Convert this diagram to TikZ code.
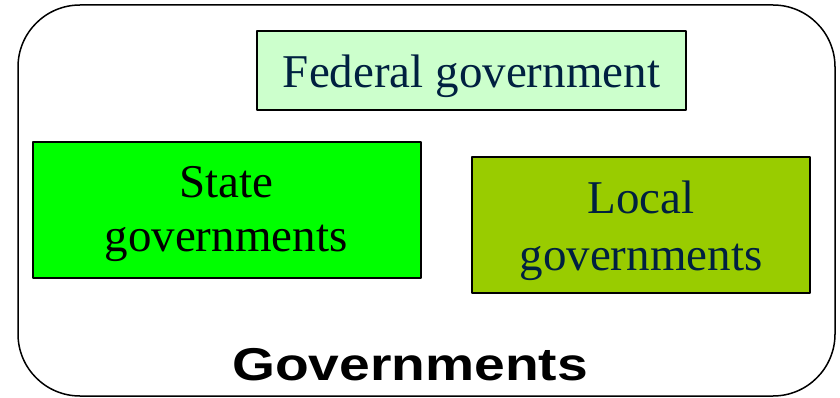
\documentclass[tikz,border=0pt]{standalone}
\usepackage{graphicx}
\usepackage{fontspec}
\setmainfont{Liberation Serif}
\newfontfamily\labelfont{Liberation Sans}
\usetikzlibrary{positioning}

\definecolor{navytext}{RGB}{0,32,64}
\definecolor{fedgreen}{RGB}{204,255,204}
\definecolor{stategreen}{RGB}{0,255,0}
\definecolor{localgreen}{RGB}{153,204,0}

\tikzset{govbox/.style={draw=black,line width=1.5pt,inner sep=0pt},
  govtext/.style={align=center,inner sep=0pt}}

\begin{document}
\begin{tikzpicture}[x=1pt,y=-1pt,line cap=round,line join=round]
        \useasboundingbox (0,0) rectangle (840,398);
        % outer frame
        \draw[line width=1.5pt,rounded corners=62pt] (18,5) rectangle (835,396);
        % 
        \node[govbox,fill=fedgreen,minimum width=429pt,minimum height=79pt] (federal) at (471.5,70.5) {};
        \node[govtext,text=navytext,font=\fontsize{47}{50}\selectfont] (fedtext) at (471.5,76) {Federal government};
        % 
        \node[govbox,fill=stategreen,minimum width=388pt,minimum height=136pt] (state) at (227,210) {};
        \node[govtext,text=black,font=\fontsize{47}{54}\selectfont] (statetext) at (226,214) {State\\governments};
        % 
        \node[govbox,fill=localgreen,minimum width=338pt,minimum height=136pt] (local) at (641,225) {};
        \node[govtext,text=navytext,font=\fontsize{47}{57}\selectfont] (localtext) at (641,230.5) {Local\\governments};
        % 
        \node[anchor=base,inner sep=0pt,font=\labelfont\bfseries\fontsize{46}{48}\selectfont] (govlabel) at (410,380) {\scalebox{1.2}[1]{Governments}};
\end{tikzpicture}
\end{document}
